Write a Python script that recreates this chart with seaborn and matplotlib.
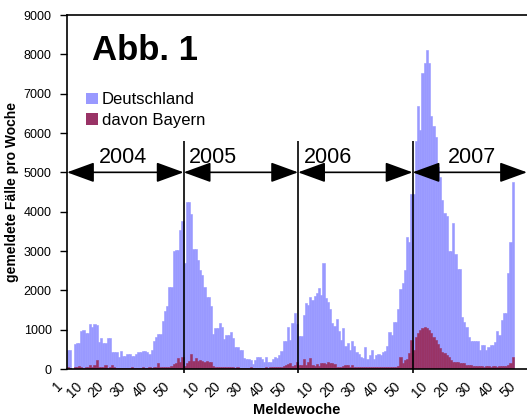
import matplotlib
matplotlib.use("Agg")
import matplotlib.pyplot as plt
from matplotlib.patches import Patch, FancyArrowPatch
from matplotlib.transforms import ScaledTranslation
import numpy as np
import pandas as pd
import seaborn as sns


YEARS = ["2004", "2005", "2006", "2007"]
WEEKS_PER_YEAR = [53, 52, 52, 52]
SERIES = ["Deutschland", "davon Bayern"]
TICK_WEEKS_FIRST = [1, 10, 20, 30, 40, 50]
TICK_WEEKS = [10, 20, 30, 40, 50]
Y_TICKS = [0, 1000, 2000, 3000, 4000, 5000, 6000, 7000, 8000, 9000]

# weekly cases, Germany
de_2004 = [480, 480, 0, 640, 650, 660, 970, 990, 920, 920,
           1140, 1060, 1140, 1110, 690, 790, 660, 660, 790, 790,
           430, 430, 430, 310, 460, 330, 330, 380, 380, 330,
           330, 380, 430, 430, 460, 460, 430, 380, 480, 710,
           810, 890, 890, 1220, 1470, 1600, 2090, 2090, 3000, 3030,
           3030, 3530, 3760]
de_2005 = [2700, 4250, 4250, 3940, 3050, 3050, 2770, 2520, 2400, 2090,
           1830, 1830, 1590, 890, 1050, 1050, 1170, 1060, 760, 860,
           860, 940, 790, 570, 570, 480, 480, 270, 250, 250,
           230, 130, 230, 310, 310, 250, 180, 300, 180, 180,
           250, 300, 270, 360, 470, 700, 710, 1060, 730, 1180,
           1420, 1140]
de_2006 = [840, 840, 1370, 1680, 1630, 1830, 1760, 1860, 1930, 2060,
           1880, 2700, 1810, 1700, 1530, 1170, 1090, 1270, 970, 740,
           1040, 590, 660, 480, 710, 590, 430, 380, 310, 280,
           560, 250, 360, 480, 250, 360, 380, 360, 430, 460,
           590, 940, 860, 1200, 1200, 1530, 2030, 2190, 2520, 3360,
           3230, 4450]
de_2007 = [4450, 5800, 6690, 6080, 7530, 7790, 8110, 7770, 6420, 6180,
           5900, 5140, 4890, 4300, 3970, 3900, 3000, 3000, 3700, 2920,
           2540, 2540, 1330, 1200, 1080, 820, 710, 710, 710, 710,
           480, 610, 600, 480, 560, 610, 610, 690, 960, 870,
           1250, 1430, 1430, 2430, 3240, 4760]

# of which Bavaria
by_2004 = [40, 35, 0, 40, 45, 76, 40, 35, 45, 40,
           100, 45, 110, 230, 45, 60, 40, 100, 35, 40,
           110, 40, 35, 30, 35, 30, 35, 30, 35, 60,
           30, 35, 30, 35, 40, 35, 30, 40, 35, 40,
           45, 150, 45, 50, 50, 55, 60, 80, 120, 165,
           290, 190, 316]
by_2005 = [80, 160, 200, 380, 200, 280, 200, 230, 200, 190,
           200, 180, 180, 80, 60, 55, 50, 45, 40, 45,
           40, 60, 40, 35, 40, 35, 30, 35, 30, 35,
           60, 30, 35, 30, 35, 30, 35, 40, 35, 40,
           45, 50, 50, 55, 60, 76, 100, 127, 140, 80,
           100, 178]
by_2006 = [100, 100, 246, 100, 187, 271, 100, 76, 119, 76,
           144, 160, 127, 187, 144, 144, 127, 60, 60, 60,
           76, 93, 93, 60, 93, 50, 45, 50, 40, 45,
           50, 40, 45, 50, 40, 45, 50, 45, 50, 55,
           50, 55, 60, 55, 60, 76, 297, 160, 229, 246,
           398, 737]
by_2007 = [483, 822, 915, 992, 1043, 1068, 1043, 992, 915, 822,
           737, 627, 534, 441, 398, 356, 314, 229, 187, 187,
           187, 144, 144, 144, 100, 100, 90, 80, 80, 80,
           76, 65, 60, 70, 65, 60, 65, 70, 60, 65,
           70, 76, 76, 100, 144, 314]

BLUE = "#9999FF"
PLUM = "#993366"

de_all = de_2004 + de_2005 + de_2006 + de_2007
by_all = by_2004 + by_2005 + by_2006 + by_2007
n_total = sum(WEEKS_PER_YEAR)
starts = np.concatenate([[0], np.cumsum(WEEKS_PER_YEAR)[:-1]])

df = pd.DataFrame({
	"pos": np.arange(len(de_all)),
	SERIES[0]: de_all,
	SERIES[1]: by_all,
})

sns.set_theme(style="ticks", rc={"text.color": "black", "axes.labelcolor": "black"})
plt.rcParams["font.family"] = ["Liberation Sans", "DejaVu Sans"]

fig = plt.figure(figsize=(5.27, 4.19), dpi=100)
ax = fig.add_axes([67 / 527, 50 / 419, 460 / 527, 354 / 419])

order = list(range(n_total))
for col, colour in [(SERIES[0], BLUE), (SERIES[1], PLUM)]:
	sns.barplot(data=df, x="pos", y=col, order=order, color=colour, saturation=1,
	            width=1, errorbar=None, linewidth=0.4, edgecolor=colour, ax=ax)

ax.set_xlim(-0.5, n_total - 0.5)
ax.set_ylim(0, 9000)
ax.set_yticks(Y_TICKS)
ax.tick_params(axis="y", length=5, width=1, pad=6, labelsize=9, colors="black")

# week tick labels
tick_pos, tick_lab = [], []
for i, (start, n) in enumerate(zip(starts, WEEKS_PER_YEAR)):
	for w in (TICK_WEEKS_FIRST if i == 0 else TICK_WEEKS):
		tick_pos.append(start + w - 1)
		tick_lab.append(str(w))
ax.set_xticks(tick_pos, tick_lab, rotation=45, ha="right", va="center",
              rotation_mode="anchor", fontsize=10)
ax.tick_params(axis="x", length=0, pad=11, colors="black")
shift = ScaledTranslation(-8 / 100, 0, fig.dpi_scale_trans)
for lab in ax.get_xticklabels():
	lab.set_transform(lab.get_transform() + shift)

for side in ["left", "bottom", "top"]:
	ax.spines[side].set_color("black")
	ax.spines[side].set_linewidth(1.2)
ax.spines["right"].set_visible(False)

ax.set_xlabel("Meldewoche", fontweight="bold", fontsize=10.5)
ax.xaxis.set_label_coords(0.5, -0.097)
ax.set_ylabel("gemeldete Fälle pro Woche", fontweight="bold", fontsize=10)
ax.yaxis.set_label_coords(-0.104, 0.5)

# year separators and arrows
bounds = [s - 0.5 for s in starts[1:]]
ax.vlines(bounds, -100, 5800, colors="black", linewidth=1.2, clip_on=False)
year_x = [25, 65.9, 118.1, 183.6]
for i, (start, n) in enumerate(zip(starts, WEEKS_PER_YEAR)):
	arr = FancyArrowPatch((start - 0.5, 5000), (start + n - 0.5, 5000),
	                      arrowstyle="<|-|>,head_length=1.7,head_width=0.62",
	                      mutation_scale=10, color="black", linewidth=1.2,
	                      shrinkA=0, shrinkB=0, clip_on=False)
	ax.add_patch(arr)
	ax.text(year_x[i], 5230, YEARS[i], fontsize=15.5, ha="center", va="baseline")

ax.text(10.9, 7857, "Abb. 1", fontsize=25, fontweight="bold", ha="left", va="baseline")

handles = [Patch(facecolor=BLUE, edgecolor="none", label=SERIES[0]),
           Patch(facecolor=PLUM, edgecolor="none", label=SERIES[1])]
ax.legend(handles=handles, loc="upper left", bbox_to_anchor=(0.041, 0.782), frameon=False,
          fontsize=12, handlelength=0.7, handleheight=0.7, handletextpad=0.25,
          labelspacing=0.35, borderpad=0, borderaxespad=0)

fig.savefig("out.png", dpi=100)
